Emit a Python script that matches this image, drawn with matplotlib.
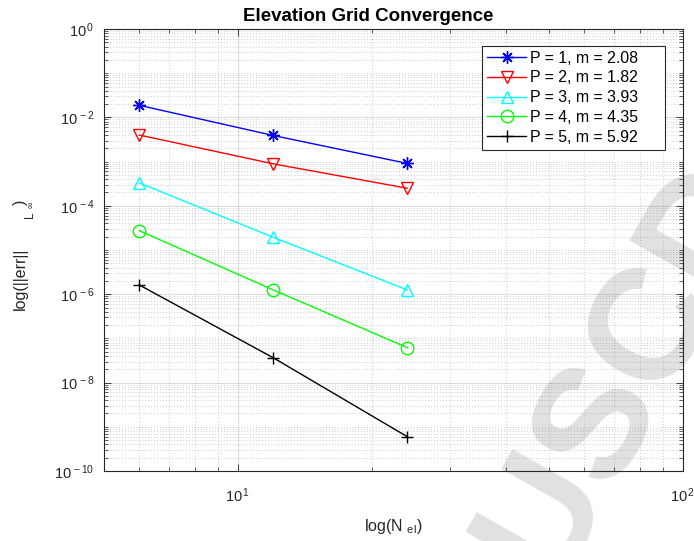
#!/usr/bin/python

import numpy as np;
import matplotlib as mpl;
mpl.use('Agg');
import matplotlib.pyplot as plt;
from matplotlib.ticker import FixedLocator, LogLocator, FuncFormatter, NullFormatter;

# number of elements
n_el = [6, 12, 24];
# max error per polynomial order
err_p1 = [1.88e-2, 3.9e-3, 9.1e-4];
err_p2 = [4.0e-3, 8.9e-4, 2.5e-4];
err_p3 = [3.3e-4, 1.94e-5, 1.25e-6];
err_p4 = [2.74e-5, 1.25e-6, 6.2e-8];
err_p5 = [1.62e-6, 3.65e-8, 6.0e-10];
labels = ['P = 1, m = 2.08', 'P = 2, m = 1.82', 'P = 3, m = 3.93',
          'P = 4, m = 4.35', 'P = 5, m = 5.92'];
yticks = [1e-10, 1e-8, 1e-6, 1e-4, 1e-2, 1e0];
xticks = [1e1, 1e2];

plt.rcParams['font.family'] = ['Liberation Sans', 'DejaVu Sans'];
plt.rcParams['mathtext.fontset'] = 'custom';
plt.rcParams['mathtext.rm'] = 'Liberation Sans';
plt.rcParams['mathtext.it'] = 'Liberation Sans';

W = 694.0;
H = 541.0;
dark = '#262626';

def sci(v, pos):
    return r'$\mathregular{10^{\,%d}}$' % int(round(np.log10(v)));

def px(x, y):
    # pixel position (from top-left) to figure fraction
    return x / W, 1 - y / H;

fig = plt.figure(figsize=(W/100, H/100), dpi=100);
ax = fig.add_axes([104/W, 1 - 471/H, (683 - 104)/W, (471 - 29)/H]);
ax.patch.set_alpha(0);

# watermark behind the axes
fig.text(*px(626, 370), 'USCD', rotation=60.5, rotation_mode='anchor',
         ha='center', va='center', fontsize=114, fontweight='bold',
         color='#e1e1e1', zorder=-5);

styles = [('#0000ff', (8, 2, 0), '#0000ff'), ('#ff0000', 'v', 'none'),
          ('#00ffff', '^', 'none'), ('#00ff00', 'o', 'none'),
          ('#000000', '+', '#000000')];
series = [err_p1, err_p2, err_p3, err_p4, err_p5];
for s, lab, (c, m, fc) in zip(series, labels, styles):
    ax.loglog(n_el, s, color=c, marker=m, markerfacecolor=fc,
              markeredgecolor=c, markersize=9, lw=1.0, label=lab + '     ');

ax.set_xlim(5, 100);
ax.set_ylim(1e-10, 1);

ax.xaxis.set_major_locator(FixedLocator(xticks));
ax.yaxis.set_major_locator(FixedLocator(yticks));
ax.xaxis.set_minor_locator(LogLocator(base=10, subs=np.arange(1, 10), numticks=20));
ax.yaxis.set_minor_locator(LogLocator(base=10, subs=np.arange(1, 10), numticks=20));
ax.xaxis.set_major_formatter(FuncFormatter(sci));
ax.yaxis.set_major_formatter(FuncFormatter(sci));
ax.xaxis.set_minor_formatter(NullFormatter());
ax.yaxis.set_minor_formatter(NullFormatter());

ax.tick_params(which='both', direction='in', top=True, right=True,
               colors=dark, labelsize=10.5);
ax.tick_params(which='major', length=5, width=0.6);
ax.tick_params(axis='y', which='major', pad=7);
ax.tick_params(axis='x', which='major', pad=11);
ax.tick_params(which='minor', length=3, width=0.5);
for sp in ax.spines.values():
    sp.set_color(dark);
    sp.set_linewidth(0.8);

ax.grid(True, which='major', color=dark, alpha=0.15, lw=0.8, ls='-');
ax.grid(True, which='minor', color=dark, alpha=0.3, lw=0.6, ls=(0, (1, 2.5)));
ax.set_axisbelow(True);

ax.set_title('Elevation Grid Convergence', fontsize=13.5, fontweight='bold',
             x=0.456, pad=6);
ax.set_xlabel(r'log(N $_{\mathregular{el}}$)', fontsize=11.5, color=dark, labelpad=9);

# y label put together by hand, like the odd subscript layout in the original
fig.text(*px(25, 310), 'log(||err||', rotation=90, rotation_mode='anchor',
         ha='left', va='baseline', fontsize=11.5, color=dark);
fig.text(*px(33, 218), 'L', rotation=90, rotation_mode='anchor',
         ha='left', va='baseline', fontsize=8.5, color=dark);
fig.text(*px(31, 205), r'$\infty$', rotation=90, rotation_mode='anchor',
         ha='center', va='center', fontsize=6.5, color=dark);
fig.text(*px(25, 205), ')', rotation=90, rotation_mode='anchor',
         ha='left', va='baseline', fontsize=11.5, color=dark);

leg = ax.legend(loc='upper right', bbox_to_anchor=(1 - 18/579, 1 - 17/442),
                borderaxespad=0, fontsize=11.4, handlelength=2.5,
                labelspacing=0.3, fancybox=False, framealpha=1,
                edgecolor=dark, borderpad=0.3, handletextpad=0.25);
leg.get_frame().set_linewidth(0.8);

fig.savefig('out.png', dpi=100);
